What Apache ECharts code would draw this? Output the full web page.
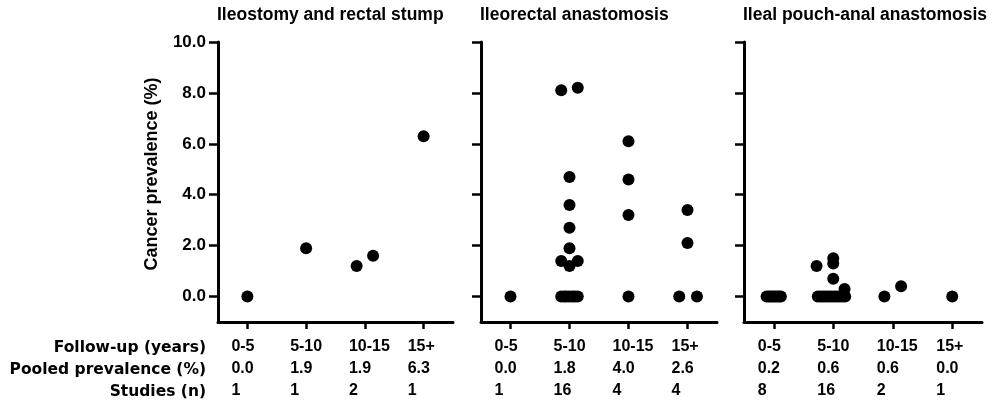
<!DOCTYPE html>
<html>
<head>
<meta charset="utf-8">
<script src="https://cdn.jsdelivr.net/npm/echarts@6/dist/echarts.min.js"></script>
<style>
html,body{margin:0;padding:0;background:#fff;}
#chart{width:998px;height:405px;}
</style>
</head>
<body>
<div id="chart"></div>
<script>
// ---- data ----
const categories = ['0-5', '5-10', '10-15', '15+'];
const panelTitles = ['Ileostomy and rectal stump', 'Ileorectal anastomosis', 'Ileal pouch-anal anastomosis'];
const rowLabels = ['Follow-up (years)', 'Pooled prevalence (%)', 'Studies (n)'];
const yTicks = [0, 2, 4, 6, 8, 10];
const yAxisName = 'Cancer prevalence (%)';

const pooled1 = ['0.0', '1.9', '1.9', '6.3'];
const studies1 = [1, 1, 2, 1];
const pooled2 = ['0.0', '1.8', '4.0', '2.6'];
const studies2 = [1, 16, 4, 4];
const pooled3 = ['0.2', '0.6', '0.6', '0.0'];
const studies3 = [8, 16, 2, 1];

// Ileostomy and rectal stump: follow-up group (1..4), prevalence, horizontal jitter
const p1Group = [1, 2, 3, 3, 4];
const p1Value = [0, 1.9, 1.2, 1.6, 6.3];
const p1Jitter = [0, 0, -0.14, 0.14, 0];

// Ileorectal anastomosis
const p2Group = [1,
  2, 2, 2, 2, 2, 2, 2, 2, 2, 2, 2, 2, 2, 2, 2, 2,
  3, 3, 3, 3,
  4, 4, 4, 4];
const p2Value = [0,
  8.1, 8.2, 4.7, 3.6, 2.7, 1.9, 1.4, 1.4, 1.2, 0, 0, 0, 0, 0, 0, 0,
  6.1, 4.6, 3.2, 0,
  3.4, 2.1, 0, 0];
const p2Jitter = [0,
  -0.14, 0.14, 0, 0, 0, 0, -0.14, 0.14, 0, -0.14, -0.09, -0.05, 0, 0.05, 0.09, 0.14,
  0, 0, 0, 0,
  0, 0, -0.14, 0.16];

// Ileal pouch-anal anastomosis
const p3Group = [1, 1, 1, 1, 1, 1, 1, 1,
  2, 2, 2, 2, 2, 2, 2, 2, 2, 2, 2, 2, 2, 2, 2, 2,
  3, 3,
  4];
const p3Value = [0, 0, 0, 0, 0, 0, 0, 0,
  1.2, 1.5, 1.3, 0.7, 0.3, 0, 0, 0, 0, 0, 0, 0, 0, 0, 0, 0,
  0, 0.4,
  0];
const p3Jitter = [-0.12, -0.086, -0.051, -0.017, 0.017, 0.051, 0.086, 0.12,
  -0.28, 0, 0, 0, 0.19, -0.26, -0.214, -0.168, -0.122, -0.076, -0.03, 0.016, 0.062, 0.108, 0.154, 0.2,
  -0.14, 0.14,
  0];

// ---- build ----
const pooledAll = [pooled1, pooled2, pooled3];
const studiesAll = [studies1, studies2, studies3];
const groupsAll = [p1Group, p2Group, p3Group];
const valuesAll = [p1Value, p2Value, p3Value];
const jitterAll = [p1Jitter, p2Jitter, p3Jitter];

const gridLefts = [218, 481, 744];
const gridWidths = [235, 236, 238];
const numFont = 'Liberation Sans, Arial, sans-serif';
const labelFont = 'DejaVu Sans, sans-serif';

const chart = echarts.init(document.getElementById('chart'), null, {renderer: 'canvas'});

const grids = [], xAxes = [], yAxes = [], series = [], titles = [];
for (let i = 0; i < 3; i++) {
  grids.push({left: gridLefts[i], width: gridWidths[i], top: 42, height: 280, containLabel: false});
  titles.push({
    text: panelTitles[i], left: gridLefts[i] - 1, top: 6, padding: 0,
    textStyle: {fontFamily: numFont, fontWeight: 'bold', fontSize: 17.5, color: '#000'}
  });
  const pooled = pooledAll[i], studies = studiesAll[i];
  xAxes.push({
    type: 'value', gridIndex: i, min: 0.5, max: 4.5,
    axisLine: {show: true, onZero: false, lineStyle: {color: '#000', width: 3}},
    axisTick: {show: true, customValues: [1, 2, 3, 4], length: 7, lineStyle: {color: '#000', width: 2.5}},
    splitLine: {show: false},
    axisLabel: {
      show: true, customValues: [1, 2, 3, 4], margin: 14, align: 'center',
      formatter: function (v) {
        const k = Math.round(v) - 1;
        return '{a|' + categories[k] + '}\n{a|' + pooled[k] + '}\n{a|' + studies[k] + '}';
      },
      rich: {a: {width: 32, align: 'left', lineHeight: 22, fontSize: 16, fontWeight: 'bold', fontFamily: numFont, color: '#000'}}
    }
  });
  yAxes.push({
    type: 'value', gridIndex: i, min: -1, max: 10,
    axisLine: {show: true, lineStyle: {color: '#000', width: 3}},
    axisTick: {show: true, customValues: yTicks, length: 9, lineStyle: {color: '#000', width: 2.5}},
    splitLine: {show: false},
    axisLabel: {
      show: i === 0, customValues: yTicks, margin: 12,
      formatter: v => v.toFixed(1),
      fontSize: 17, fontWeight: 'bold', fontFamily: numFont, color: '#000'
    }
  });
  const data = groupsAll[i].map((g, j) => [g + jitterAll[i][j], valuesAll[i][j]]);
  series.push({
    type: 'scatter', xAxisIndex: i, yAxisIndex: i, data: data,
    symbol: 'circle', symbolSize: 12, itemStyle: {color: '#000', opacity: 1},
    silent: true, animation: false
  });
}

const rowY = [347.5, 369.5, 391.5];
const graphics = rowLabels.map((t, k) => ({
  type: 'text', x: 206, y: rowY[k],
  style: {text: t, textAlign: 'right', textVerticalAlign: 'middle', fontFamily: labelFont, fontWeight: 'bold', fontSize: 15.5, fill: '#000'}
}));
graphics.push({
  type: 'text', x: 152, y: 174, rotation: Math.PI / 2,
  style: {text: yAxisName, textAlign: 'center', textVerticalAlign: 'middle', fontFamily: numFont, fontWeight: 'bold', fontSize: 18, fill: '#000'}
});

chart.setOption({
  animation: false,
  backgroundColor: '#fff',
  title: titles,
  grid: grids,
  xAxis: xAxes,
  yAxis: yAxes,
  series: series,
  graphic: graphics
});
</script>
</body>
</html>
